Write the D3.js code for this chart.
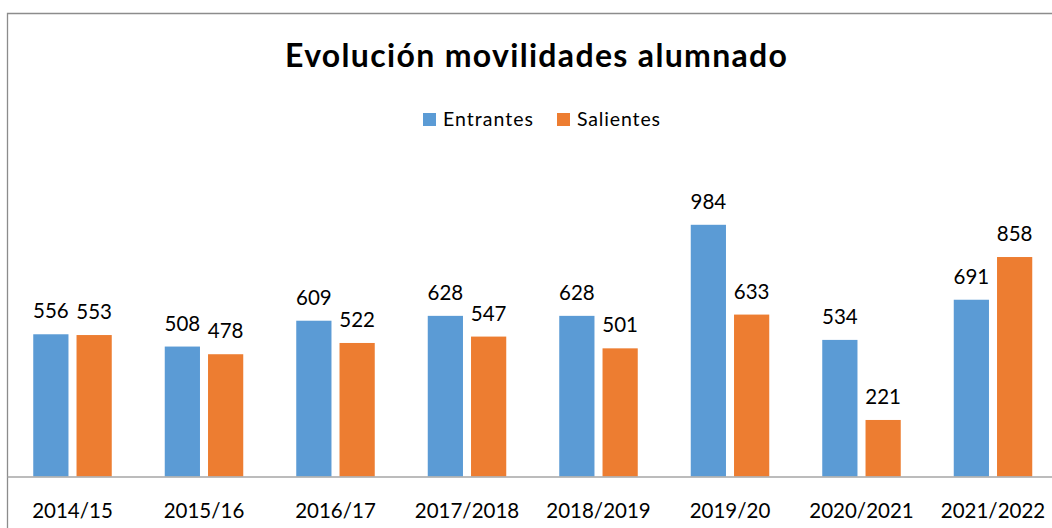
<!DOCTYPE html>
<html><head><meta charset="utf-8">
<script src="https://cdn.jsdelivr.net/npm/d3@7"></script>
<style>html,body{margin:0;padding:0;background:#fff;}svg{display:block;}</style>
</head><body>
<svg id="c" width="1052" height="528"></svg>
<script>
const categories = ["2014/15","2015/16","2016/17","2017/2018","2018/2019","2019/20","2020/2021","2021/2022"];
const seriesNames = ["Entrantes","Salientes"];
const entrantes = [556,508,609,628,628,984,534,691];
const salientes = [553,478,522,547,501,633,221,858];
const colors = ["#5B9BD5","#ED7D31"];
const title = "Evolución movilidades alumnado";

const svg = d3.select("#c");
const font = "Lato, 'Open Sans', sans-serif";

// frame
svg.append("path").attr("d","M7.5,540 V13.5 H1060").attr("fill","none").attr("stroke","#8c8c8c").attr("stroke-width",1.3);

const x = d3.scaleBand().domain(categories).range([6.75, 6.75+131.5*8]).padding(0);
const xs = d3.scaleBand().domain(seriesNames).range([26.5, 105]).paddingInner(8/43).paddingOuter(0);
const y = d3.scaleLinear().domain([0,1000]).range([476.5, 220.7]);

const data = categories.map((c,i)=>({cat:c, vals:[{s:seriesNames[0],v:entrantes[i]},{s:seriesNames[1],v:salientes[i]}]}));

const g = svg.append("g").selectAll("g").data(data).join("g").attr("transform",d=>`translate(${x(d.cat)},0)`);
g.selectAll("rect").data(d=>d.vals).join("rect")
  .attr("x",d=>xs(d.s)).attr("width",xs.bandwidth())
  .attr("y",d=>y(d.v)).attr("height",d=>y(0)-y(d.v))
  .attr("fill",(d,i)=>colors[i]);
g.selectAll("text.v").data(d=>d.vals).join("text").attr("class","v")
  .attr("x",d=>xs(d.s)+xs.bandwidth()/2).attr("y",d=>y(d.v)-16)
  .attr("text-anchor","middle").attr("font-family",font).attr("font-size",20.5).attr("fill","#000")
  .text(d=>d.v);

// x axis
const ax = svg.append("g").attr("transform",`translate(0,${y(0)})`).call(d3.axisBottom(x).tickSize(0).tickPadding(0));
ax.select(".domain").attr("stroke","#a6a6a6").attr("stroke-width",1.3).attr("d","M7.5,0.5H1060");
ax.selectAll(".tick text").attr("font-family",font).attr("font-size",20.5).attr("fill","#000").attr("dy",0).attr("y",41);

// title
svg.append("text").attr("x",536).attr("y",67).attr("text-anchor","middle")
  .attr("font-family",font).attr("font-weight","bold").attr("font-size",32).attr("fill","#000")
  .attr("textLength",502).attr("lengthAdjust","spacing").text(title);

// legend
const leg = [{n:seriesNames[0],x:423,w:90},{n:seriesNames[1],x:557,w:83}];
const lg = svg.append("g").selectAll("g").data(leg).join("g");
lg.append("rect").attr("x",d=>d.x).attr("y",113).attr("width",13).attr("height",13).attr("fill",(d,i)=>colors[i]);
lg.append("text").attr("x",d=>d.x+20).attr("y",126).attr("font-family",font).attr("font-size",19.5).attr("fill","#000")
  .attr("textLength",d=>d.w).attr("lengthAdjust","spacing").text(d=>d.n);
</script>
</body></html>
